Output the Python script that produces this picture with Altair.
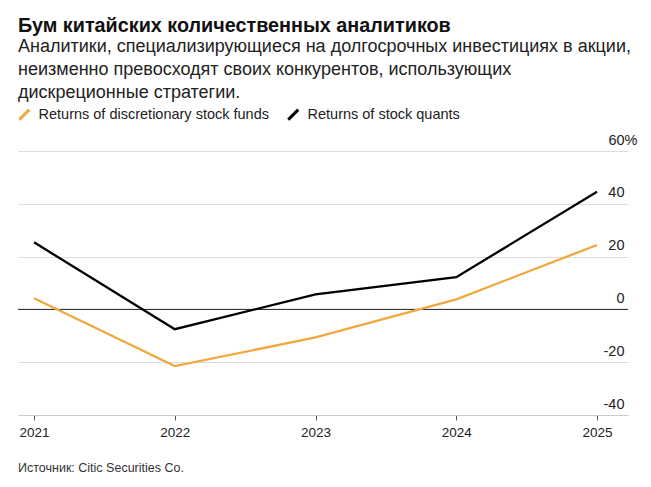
import altair as alt
import pandas as pd

# Annual returns, %
years = [2021, 2022, 2023, 2024, 2025]
discretionary = [4.2, -21.5, -10.6, 3.8, 24.4]
quants = [25.4, -7.5, 5.7, 12.2, 44.6]

series_names = ["Returns of discretionary stock funds", "Returns of stock quants"]
series_colors = ["#F0A83E", "#000000"]

y_ticks = [-40, -20, 0, 20, 40, 60]

title_text = "Бум китайских количественных аналитиков"
subtitle_lines = [
    "Аналитики, специализирующиеся на долгосрочных инвестициях в акции,",
    "неизменно превосходят своих конкурентов, использующих",
    "дискреционные стратегии.",
]
source_text = "Источник: Citic Securities Co."

FONT = "Liberation Sans"

rows = []
for name, vals in zip(series_names, [discretionary, quants]):
    for yr, v in zip(years, vals):
        rows.append({"year": yr, "value": v, "series": name})
df = pd.DataFrame(rows)

x_scale = alt.Scale(domain=[2020.886, 2025.22], nice=False, zero=False)
y_scale = alt.Scale(domain=[-40, 60], nice=False)

lines = (
    alt.Chart(df)
    .mark_line(strokeWidth=2.3)
    .encode(
        x=alt.X(
            "year:Q",
            scale=x_scale,
            axis=alt.Axis(
                values=years,
                format="d",
                title=None,
                grid=False,
                domainColor="#cccccc",
                domainWidth=1,
                tickColor="#555555",
                tickSize=5,
                labelFontSize=13.5,
                labelColor="#222222",
                labelFont=FONT,
                labelPadding=5,
            ),
        ),
        y=alt.Y(
            "value:Q",
            scale=y_scale,
            axis=alt.Axis(
                orient="right",
                values=y_ticks,
                title=None,
                grid=True,
                gridColor="#dddddd",
                domain=False,
                ticks=False,
                labelAlign="right",
                labelBaseline="alphabetic",
                # the percent sign on the top label hangs past the right-aligned numbers
                labelPadding={"condition": {"test": "datum.value == 60", "value": 9}, "value": -4},
                labelOffset=-7,
                labelFontSize=14.5,
                labelColor="#222222",
                labelFont=FONT,
                labelExpr="datum.value == 60 ? '60%' : '' + datum.value",
            ),
        ),
        color=alt.Color(
            "series:N",
            scale=alt.Scale(domain=series_names, range=series_colors),
            legend=alt.Legend(
                title=None,
                orient="none",
                legendX=-1,
                legendY=-44,
                direction="horizontal",
                symbolType="M-1,1L1,-1",
                symbolSize=100,
                symbolStrokeWidth=3,
                labelFontSize=14.5,
                labelFont=FONT,
                labelColor="#222222",
                labelLimit=0,
                columnPadding=13,
                labelOffset=7,
            ),
        ),
    )
)

zero_rule = (
    alt.Chart(pd.DataFrame({"value": [0]}))
    .mark_rule(color="#222222", strokeWidth=1)
    .encode(y=alt.Y("value:Q", scale=y_scale))
)

source = (
    alt.Chart(pd.DataFrame({"text": [source_text]}))
    .mark_text(align="left", baseline="middle", fontSize=12.5, font=FONT, color="#333333")
    .encode(x=alt.value(0), y=alt.value(316.5), text="text:N")
)

chart = (
    alt.layer(zero_rule, lines, source)
    .properties(
        width=610,
        height=264,
        autosize=alt.AutoSizeParams(type="none"),
        padding={"left": 18, "top": 151, "right": 23, "bottom": 72},
        title=alt.TitleParams(
            text=title_text,
            subtitle=subtitle_lines,
            anchor="start",
            frame="group",
            font=FONT,
            fontSize=19.8,
            fontWeight="bold",
            color="#111111",
            subtitleFont=FONT,
            subtitleFontSize=18,
            subtitleColor="#222222",
            subtitleLineHeight=23,
            subtitlePadding=2,
            offset=5,
        ),
    )
    .configure_view(stroke=None)
)

chart.save("out.html", embed_options={"renderer": "svg", "actions": False})
